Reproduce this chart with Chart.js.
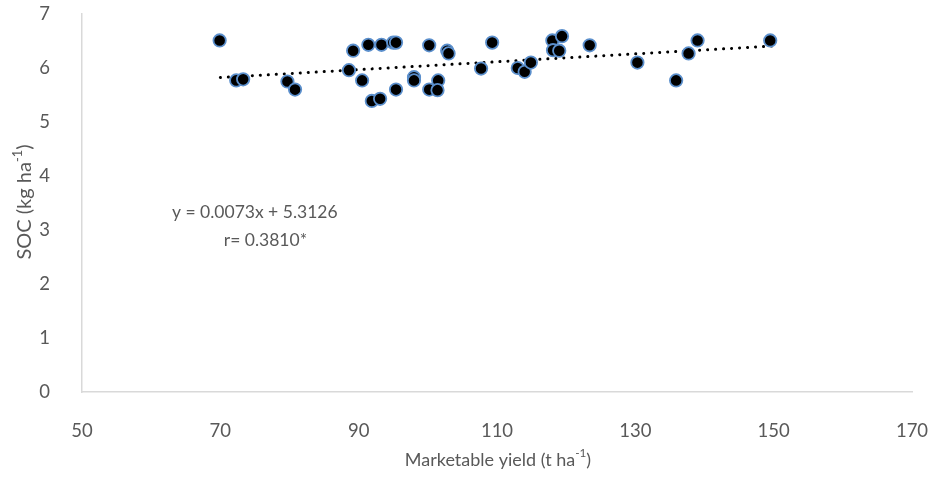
<!DOCTYPE html>
<html>
<head>
<meta charset="utf-8">
<script src="https://cdn.jsdelivr.net/npm/chart.js@4/dist/chart.umd.min.js"></script>
<style>
  html, body { margin: 0; padding: 0; background: #fff; }
</style>
</head>
<body>
<canvas id="myChart" width="928" height="477"></canvas>
<script>
// Data
const yieldValues = [69.9, 72.3, 73.3, 79.7, 80.8, 88.6, 89.2, 90.5, 91.4, 91.9,
  93.1, 93.3, 95.0, 95.4, 95.4, 98.0, 98.0, 100.2, 100.2, 101.5,
  101.4, 102.8, 103.0, 107.7, 109.3, 113.0, 114.0, 114.9, 118.0, 118.1,
  119.0, 119.4, 123.4, 130.3, 135.9, 137.7, 139.0, 149.5];
const socValues = [6.51, 5.77, 5.79, 5.75, 5.60, 5.96, 6.32, 5.77, 6.43, 5.39,
  5.43, 6.43, 6.47, 6.47, 5.60, 5.83, 5.77, 6.42, 5.60, 5.77,
  5.59, 6.32, 6.27, 5.99, 6.47, 6.00, 5.93, 6.10, 6.51, 6.33,
  6.32, 6.59, 6.42, 6.10, 5.77, 6.27, 6.51, 6.51];
const slope = 0.0073;
const intercept = 5.3126;
const trendX = [70, 150];
const xTicks = [50, 70, 90, 110, 130, 150, 170];
const yTicks = [0, 1, 2, 3, 4, 5, 6, 7];

const points = yieldValues.map((x, i) => ({ x: x, y: socValues[i] }));
const trend = trendX.map(x => ({ x: x, y: slope * x + intercept }));

const FONT = "Lato, 'Open Sans', sans-serif";
const GREY = "#595959";

// draw text with a superscript part
function drawSup(ctx, parts, size) {
  let total = 0;
  parts.forEach(p => {
    ctx.font = (p.sup ? size * 0.65 : size) + "px " + FONT;
    total += ctx.measureText(p.t).width;
  });
  let x = -total / 2;
  parts.forEach(p => {
    ctx.font = (p.sup ? size * 0.65 : size) + "px " + FONT;
    ctx.fillText(p.t, x, p.sup ? -size * 0.35 : 0);
    x += ctx.measureText(p.t).width;
  });
}

const labelsPlugin = {
  id: "labels",
  afterDraw(chart) {
    const ctx = chart.ctx;
    const xs = chart.scales.x, ys = chart.scales.y;
    ctx.save();
    ctx.fillStyle = GREY;
    ctx.textBaseline = "middle";
    ctx.textAlign = "left";
    // x title
    ctx.save();
    ctx.translate(498, 460);
    drawSup(ctx, [{ t: "Marketable yield (t ha" }, { t: "-1", sup: true }, { t: ")" }], 18);
    ctx.restore();
    // y title
    ctx.save();
    ctx.translate(25, 202);
    ctx.rotate(-Math.PI / 2);
    drawSup(ctx, [{ t: "SOC (kg ha" }, { t: "-1", sup: true }, { t: ")" }], 20);
    ctx.restore();
    // trend equation
    ctx.font = "17.5px " + FONT;
    ctx.textAlign = "left";
    ctx.fillText("y = 0.0073x + 5.3126", xs.getPixelForValue(63.0), ys.getPixelForValue(3.33));
    ctx.fillText("r= 0.3810*", xs.getPixelForValue(70.5), ys.getPixelForValue(2.81));
    ctx.restore();
  }
};

const ctx = document.getElementById("myChart").getContext("2d");
const myChart = new Chart(ctx, {
  type: "scatter",
  data: {
    datasets: [
      {
        label: "Trend",
        data: trend,
        showLine: true,
        borderColor: "#000",
        borderWidth: 3,
        borderDash: [0.1, 7.9],
        borderCapStyle: "round",
        pointRadius: 0,
        fill: false,
        order: 2,
      },
      {
        label: "SOC",
        data: points,
        backgroundColor: "#000",
        borderColor: "#5B8FCC",
        borderWidth: 1.8,
        pointRadius: 6.2,
        pointHoverRadius: 6.2,
        order: 1,
      },
    ],
  },
  options: {
    responsive: false,
    animation: false,
    devicePixelRatio: 1,
    layout: { padding: { left: 0, right: 16, top: 14, bottom: 0 } },
    plugins: { legend: { display: false }, tooltip: { enabled: false } },
    scales: {
      x: {
        type: "linear",
        min: 50,
        max: 170,
        afterBuildTicks: s => { s.ticks = xTicks.map(v => ({ value: v })); },
        afterFit: s => { s.height = 85; s.paddingLeft = 0; s.paddingRight = 0; },
        grid: { display: false },
        border: { display: true, color: "#D9D9D9", width: 1.5 },
        ticks: { color: GREY, font: { family: FONT, size: 18.5 }, padding: 20, maxRotation: 0 },
      },
      y: {
        type: "linear",
        min: 0,
        max: 7,
        afterBuildTicks: s => { s.ticks = yTicks.map(v => ({ value: v })); },
        afterFit: s => { s.width = 82; s.paddingTop = 0; s.paddingBottom = 0; },
        grid: { display: false },
        border: { display: true, color: "#D9D9D9", width: 1.5 },
        ticks: { color: GREY, font: { family: FONT, size: 18.5 }, padding: 24 },
      },
    },
  },
  plugins: [labelsPlugin],
});
</script>
</body>
</html>
